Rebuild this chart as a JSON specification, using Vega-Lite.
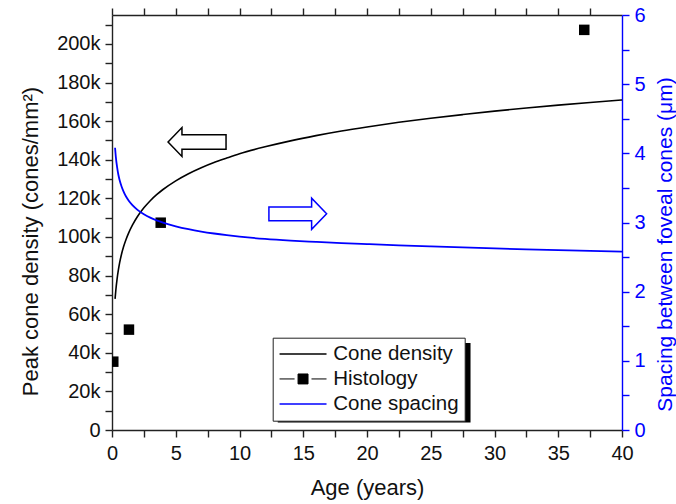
{
  "$schema": "https://vega.github.io/schema/vega-lite/v6.json",
  "width": 510,
  "height": 415,
  "autosize": {"type": "none"},
  "padding": {"left": 112, "top": 15, "right": 54, "bottom": 74},
  "background": "white",
  "config": {
    "font": "Liberation Sans",
    "view": {"stroke": null},
    "axis": {"grid": false, "labelFont": "Liberation Sans", "titleFont": "Liberation Sans", "titleFontWeight": "normal", "labelFontSize": 20, "titleFontSize": 22, "domainColor": "#222", "domainWidth": 1.4, "tickColor": "#222", "tickWidth": 1.4, "labelColor": "#111", "titleColor": "#111", "labelFlush": false, "labelOverlap": false}
  },
  "datasets": {
    "curves": [
      {"age": 0.24, "density": 67900, "spacing": 4.08},
      {"age": 0.3, "density": 72400, "spacing": 3.95},
      {"age": 0.4, "density": 78300, "spacing": 3.8},
      {"age": 0.5, "density": 82900, "spacing": 3.69},
      {"age": 0.6, "density": 86700, "spacing": 3.61},
      {"age": 0.75, "density": 91200, "spacing": 3.52},
      {"age": 0.9, "density": 94800, "spacing": 3.45},
      {"age": 1.1, "density": 98700, "spacing": 3.375},
      {"age": 1.3, "density": 102000, "spacing": 3.318},
      {"age": 1.6, "density": 106100, "spacing": 3.25},
      {"age": 2, "density": 110600, "spacing": 3.183},
      {"age": 2.5, "density": 115100, "spacing": 3.12},
      {"age": 3, "density": 118800, "spacing": 3.07},
      {"age": 3.5, "density": 121900, "spacing": 3.031},
      {"age": 4, "density": 124600, "spacing": 2.998},
      {"age": 5, "density": 129100, "spacing": 2.945},
      {"age": 6, "density": 132800, "spacing": 2.903},
      {"age": 7, "density": 135900, "spacing": 2.869},
      {"age": 8, "density": 138600, "spacing": 2.841},
      {"age": 9, "density": 140900, "spacing": 2.817},
      {"age": 10, "density": 143100, "spacing": 2.796},
      {"age": 12, "density": 146700, "spacing": 2.762},
      {"age": 14, "density": 149800, "spacing": 2.738},
      {"age": 16, "density": 152500, "spacing": 2.72},
      {"age": 18, "density": 154900, "spacing": 2.703},
      {"age": 20, "density": 157000, "spacing": 2.688},
      {"age": 22.5, "density": 159400, "spacing": 2.67},
      {"age": 25, "density": 161500, "spacing": 2.654},
      {"age": 27.5, "density": 163400, "spacing": 2.639},
      {"age": 30, "density": 165200, "spacing": 2.625},
      {"age": 32.5, "density": 166800, "spacing": 2.612},
      {"age": 35, "density": 168300, "spacing": 2.601},
      {"age": 37.5, "density": 169700, "spacing": 2.59},
      {"age": 40, "density": 171000, "spacing": 2.58}
    ],
    "histology": [
      {"age": 0.1, "density": 35400},
      {"age": 1.33, "density": 52000},
      {"age": 3.82, "density": 107400},
      {"age": 37.04, "density": 207300}
    ]
  },
  "layer": [
    {
      "data": {"values": [{}]},
      "mark": {"type": "rect", "fill": "#000000"},
      "encoding": {
        "x": {"datum": 13.0, "type": "quantitative", "axis": null, "scale": {"domain": [0, 40], "nice": false, "zero": false}},
        "x2": {"datum": 28.12},
        "y": {"datum": 45100, "type": "quantitative", "axis": null, "scale": {"domain": [0, 215000], "nice": false, "zero": true}},
        "y2": {"datum": 3900}
      }
    },
    {
      "data": {"name": "curves"},
      "mark": {"type": "line", "strokeWidth": 1.6, "clip": true, "interpolate": "monotone"},
      "encoding": {
        "x": {"field": "age", "type": "quantitative", "scale": {"domain": [0, 40], "nice": false, "zero": false},
          "axis": {"orient": "bottom", "title": "Age (years)", "values": [0, 2.5, 5, 7.5, 10, 12.5, 15, 17.5, 20, 22.5, 25, 27.5, 30, 32.5, 35, 37.5, 40],
            "labelExpr": "datum.value % 5 === 0 ? datum.label : ''", "labelPadding": 6, "titlePadding": 14, "tickSize": 7,
            "encode": {"ticks": {"update": {"y2": {"signal": "datum.value % 5 === 0 ? 7 : 4"}}}}}},
        "y": {"field": "density", "type": "quantitative", "scale": {"domain": [0, 215000], "nice": false, "zero": true},
          "axis": {"orient": "left", "title": "Peak cone density (cones/mm²)", "values": [0, 10000, 20000, 30000, 40000, 50000, 60000, 70000, 80000, 90000, 100000, 110000, 120000, 130000, 140000, 150000, 160000, 170000, 180000, 190000, 200000, 210000],
            "labelExpr": "datum.value % 20000 === 0 ? (datum.value === 0 ? '0' : (datum.value / 1000) + 'k') : ''",
            "labelPadding": 5, "titlePadding": 14, "tickSize": 7, "titleY": 226,
            "encode": {"ticks": {"update": {"x2": {"signal": "datum.value % 20000 === 0 ? -7 : -4"}}}}}},
        "color": {"datum": "Cone density", "type": "nominal",
          "scale": {"domain": ["Cone density", "Histology", "Cone spacing"], "range": ["#000000", "#000000", "#0000ff"]},
          "legend": {"orient": "none", "legendX": 160.7, "legendY": 322.7, "title": null, "fillColor": "white", "strokeColor": "#222", "padding": 6,
            "labelFontSize": 20.5, "labelFont": "Liberation Sans", "labelColor": "#111", "symbolSize": 353, "labelOffset": 34, "rowPadding": 4,
            "encode": {"symbols": {"update": {
              "shape": {"signal": "datum.value === 'Histology' ? 'M-1,0H0.6M2.4,0H4M0.97,-0.53H2.03V0.53H0.97Z' : 'M-1,0H4'"},
              "fill": {"signal": "datum.value === 'Histology' ? '#000000' : 'transparent'"},
              "stroke": {"signal": "datum.value === 'Cone spacing' ? '#0000ff' : (datum.value === 'Histology' ? '#777777' : '#000000')"},
              "strokeWidth": {"signal": "datum.value === 'Histology' ? 1 : 1.6"},
              "opacity": {"value": 1}
            }}}}}
      }
    },
    {
      "data": {"name": "histology"},
      "mark": {"type": "point", "shape": "square", "filled": true, "size": 110, "opacity": 1, "clip": true},
      "encoding": {
        "x": {"field": "age", "type": "quantitative", "axis": null, "scale": {"domain": [0, 40], "nice": false, "zero": false}},
        "y": {"field": "density", "type": "quantitative", "axis": null, "scale": {"domain": [0, 215000], "nice": false, "zero": true}},
        "color": {"datum": "Histology", "type": "nominal"}
      }
    },
    {
      "data": {"values": [{}]},
      "mark": {"type": "point", "shape": "M-1,0L-0.52,-0.5L-0.52,-0.25L1,-0.25L1,0.25L-0.52,0.25L-0.52,0.5Z", "size": 3364, "filled": false, "fill": "white", "fillOpacity": 1, "stroke": "#000000", "strokeWidth": 1.5, "opacity": 1},
      "encoding": {
        "x": {"datum": 6.67, "type": "quantitative", "axis": null, "scale": {"domain": [0, 40], "nice": false, "zero": false}},
        "y": {"datum": 149200, "type": "quantitative", "axis": null, "scale": {"domain": [0, 215000], "nice": false, "zero": true}}
      }
    },
    {
      "data": {"values": [{}]},
      "mark": {"type": "point", "shape": "M1,0L0.48,-0.54L0.48,-0.24L-1,-0.24L-1,0.24L0.48,0.24L0.48,0.54Z", "size": 3330, "filled": false, "fill": "white", "fillOpacity": 1, "stroke": "#0000ff", "strokeWidth": 1.5, "opacity": 1},
      "encoding": {
        "x": {"datum": 14.57, "type": "quantitative", "axis": null, "scale": {"domain": [0, 40], "nice": false, "zero": false}},
        "y": {"datum": 112000, "type": "quantitative", "axis": null, "scale": {"domain": [0, 215000], "nice": false, "zero": true}}
      }
    },
    {
      "data": {"name": "curves"},
      "mark": {"type": "line", "strokeWidth": 1.8, "clip": true, "interpolate": "monotone"},
      "encoding": {
        "x": {"field": "age", "type": "quantitative", "scale": {"domain": [0, 40], "nice": false, "zero": false},
          "axis": {"orient": "top", "title": null, "labels": false, "values": [0, 2.5, 5, 7.5, 10, 12.5, 15, 17.5, 20, 22.5, 25, 27.5, 30, 32.5, 35, 37.5],
            "tickSize": 7, "encode": {"ticks": {"update": {"y2": {"signal": "datum.value % 5 === 0 ? 8 : 5"}}}}}},
        "y": {"field": "spacing", "type": "quantitative", "scale": {"domain": [0, 6], "nice": false, "zero": true},
          "axis": {"orient": "right", "title": "Spacing between foveal cones (μm)", "values": [0, 0.5, 1, 1.5, 2, 2.5, 3, 3.5, 4, 4.5, 5, 5.5, 6],
            "labelExpr": "datum.value % 1 === 0 ? '' + datum.value : ''", "labelPadding": 5, "titlePadding": 9, "titleAngle": 270, "titleBaseline": "top", "titleY": 229, "titleFontSize": 21,
            "domainColor": "#0000ff", "tickColor": "#0000ff", "labelColor": "#0000ff", "titleColor": "#0000ff", "tickSize": 7,
            "encode": {"ticks": {"update": {"x2": {"signal": "datum.value % 1 === 0 ? 7 : 4"}}}}}},
        "color": {"datum": "Cone spacing", "type": "nominal"}
      }
    }
  ],
  "resolve": {"scale": {"y": "independent"}, "axis": {"x": "independent", "y": "independent"}}
}
